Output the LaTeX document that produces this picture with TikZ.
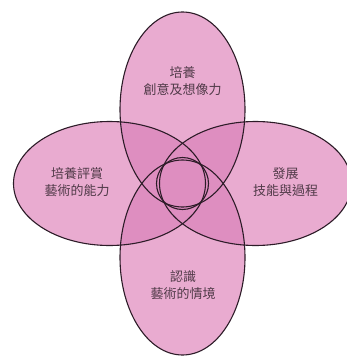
\documentclass[tikz,border=0pt]{standalone}
\usepackage{fontspec}
\newfontfamily\cjk{Noto Sans CJK TC}
\definecolor{petal}{RGB}{233,171,208}
\definecolor{overlapcol}{RGB}{222,142,192}
\definecolor{edgecol}{RGB}{45,28,40}
\definecolor{txtcol}{RGB}{80,58,72}
\begin{document}
\begin{tikzpicture}[x=1pt,y=-1pt,
  petaltext/.style={font=\cjk\fontsize{13}{17}\selectfont, text=txtcol, align=center, inner sep=0pt},
  outline/.style={draw=edgecol, line width=1.1pt}]
\fill[white] (0,0) rectangle (347,356);
\useasboundingbox (0,0) rectangle (347,356);
\def\pT{(182.5,109.5) ellipse [x radius=62.5pt, y radius=97.5pt]}
\def\pB{(182.5,257.5) ellipse [x radius=62.5pt, y radius=97.5pt]}
\def\pL{(109.5,183.5) ellipse [x radius=96pt, y radius=62pt]}
\def\pR{(255.5,183.5) ellipse [x radius=96pt, y radius=62pt]}
% base fill
\fill[petal] \pT;
\fill[petal] \pB;
\fill[petal] \pL;
\fill[petal] \pR;
% overlaps
\begin{scope}\clip \pT; \fill[overlapcol] \pL; \fill[overlapcol] \pR; \fill[overlapcol] \pB; \end{scope}
\begin{scope}\clip \pB; \fill[overlapcol] \pL; \fill[overlapcol] \pR; \end{scope}
\begin{scope}\clip \pL; \fill[overlapcol] \pR; \end{scope}
% outlines
\draw[outline] \pT;
\draw[outline] \pB;
\draw[outline] \pL;
\draw[outline] \pR;
\draw[outline] (182.5,183.5) circle [radius=26pt];
% texts
\node[petaltext] (tT) at (182.5,81) {培養\\創意及想像力};
\node[petaltext] (tL) at (77,182) {培養評賞\\藝術的能力};
\node[petaltext] (tR) at (285.5,182) {發展\\技能與過程};
\node[petaltext] (tB) at (183,285) {認識\\藝術的情境};
\end{tikzpicture}
\end{document}
